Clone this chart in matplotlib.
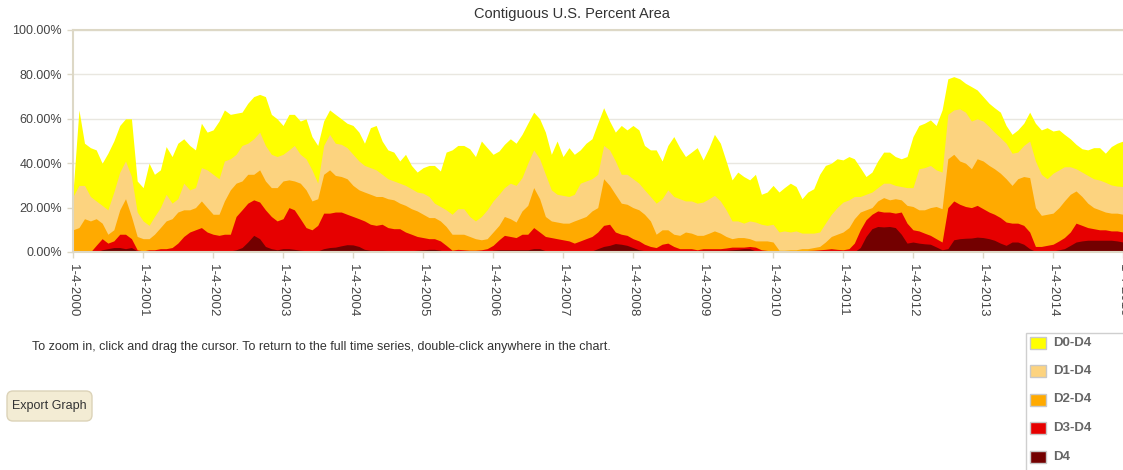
import pandas as pd
import matplotlib
matplotlib.use('Agg')
import matplotlib.pyplot as plt
from matplotlib.patches import Rectangle, FancyBboxPatch
from matplotlib.transforms import Affine2D

plt.rcParams['font.family'] = ['Liberation Sans', 'DejaVu Sans']

# monthly readings, 4th of each month, Jan 2000 .. Jan 2015
dates = pd.date_range('2000-01-04', periods=181, freq=pd.DateOffset(months=1))

d0_d4 = [
    27, 64, 49, 47, 46, 40, 44.5, 50, 57, 60, 60, 32,
    29, 40, 35, 37, 47.5, 43, 49, 51, 48, 46, 58, 54,
    55, 59, 64, 62, 62.5, 63, 67, 70, 71, 70, 62, 60,
    57, 62, 62, 59, 60, 52, 48, 59, 64, 62, 60, 58,
    57, 54, 49, 56, 57, 50, 46, 45, 41, 44, 39, 36,
    38, 39, 39, 36.5, 45, 46, 48, 48, 46.5, 43, 50, 47,
    44, 45.5, 48.5, 51, 49, 53, 58, 63, 60, 54, 44, 50,
    43, 47, 44, 46, 49, 51, 58, 65, 59, 54, 57, 55,
    57, 55, 48, 46, 46, 41, 48, 52, 47, 43, 45, 47,
    41.5, 47, 53, 49, 41, 32.5, 36, 34, 32.5, 35, 26, 27,
    30, 27, 29, 31, 29.5, 24, 27, 28.5, 35, 39, 40, 42,
    41.5, 43, 42, 38, 34, 36, 41, 45, 45, 43, 42, 43,
    52, 57, 58, 59.5, 57, 64, 78, 79, 78, 76, 74.5, 73,
    70, 67, 65, 63, 57, 53, 55, 58, 63, 58, 55, 56,
    54.5, 55, 53, 51, 48.5, 46.5, 46, 47, 47, 44.5, 47.5, 49,
    50,
]
d1_d4 = [
    25, 30, 30, 25, 23, 21, 19, 27, 36, 41, 34, 18,
    14, 12, 16, 20, 26, 22, 24, 31, 28, 29, 38, 37,
    35, 33, 41, 42, 44, 48, 49, 51, 54, 48, 44, 43,
    44, 46, 48, 44, 42, 37, 31, 48, 53, 49, 48.5, 47,
    44, 41, 39, 38, 37, 35, 33, 32, 31, 30, 28.5, 27,
    26.5, 25, 22, 20.5, 19, 17, 19.5, 19.5, 16, 14, 16, 19,
    23, 26, 29, 31, 30, 33.5, 40, 46, 42, 35, 28, 26,
    25.5, 25, 26, 31, 32, 33, 35, 48, 46, 41, 35, 35,
    33, 31, 28, 25, 22, 24, 28, 25, 24, 23, 23, 22,
    22.5, 24, 25.5, 23, 19, 14, 14, 13, 14, 13.5, 12.5, 12,
    12.5, 9, 9.5, 9, 9.5, 8.5, 8.5, 8.5, 9, 13, 17, 20,
    22.5, 23.5, 25, 25, 26, 27, 29, 31, 31, 30, 29.5, 29,
    29, 37.5, 38, 39, 37, 36, 62, 64, 64.5, 63, 59, 60,
    59, 56.5, 54, 51.5, 49, 44.5, 45, 48, 50, 41, 35, 33,
    35.5, 37, 38.4, 38.4, 37.5, 36, 34.5, 33, 32.4, 31.4, 30.2, 29.7,
    29.5,
]
d2_d4 = [
    10, 11, 15, 14, 15, 13, 8, 10, 19, 24, 16, 7,
    6, 6, 8, 11, 14, 15, 18, 19, 19, 20, 23, 20,
    17, 17, 23, 28, 31, 32, 35, 35, 37, 32, 29, 29,
    32, 32.5, 32, 31, 28, 23, 24, 35, 37, 34.5, 34, 33,
    30, 28, 27, 26, 25, 25, 24, 23.5, 22, 21, 19.5, 18.5,
    17, 15.5, 15.5, 14, 11.5, 8, 8, 8, 7, 6, 5.5, 6,
    9, 12, 16, 15, 13.5, 18.5, 21, 29, 24, 16, 14, 13.5,
    13, 13, 14, 15, 16, 18.5, 20, 33, 30, 26, 22, 21.5,
    20, 19, 17, 14, 8, 10, 10, 8, 7.5, 9, 8.5, 7.5,
    7.5, 8.5, 9.5, 8.5, 7, 6, 6.5, 6.5, 6, 5, 5, 5,
    4.5, 0.8, 0.8, 1, 1, 1.5, 1.5, 2, 2.5, 4.5, 7, 8,
    9, 11, 15, 18, 19, 20, 23, 24.5, 23.5, 24, 23.5, 21,
    20.5, 19, 19, 20, 20.5, 19.5, 42, 44, 41, 40, 37.5, 42,
    41, 39, 37.5, 35.5, 33, 30, 33, 34, 33.5, 20, 16.5, 17,
    17.5, 20, 23, 26, 27.5, 25, 22, 20, 19, 18, 17.5, 17.5,
    17,
]
d3_d4 = [
    0, 0, 0, 0, 3, 6, 4, 5, 8, 8, 6, 1,
    0.5, 1, 1, 1.5, 1.5, 2, 4, 7, 9, 10, 11, 9,
    8, 7.5, 8, 8, 16, 19, 22, 23.5, 22.5, 19, 16, 14,
    15, 20, 19, 15, 11, 10, 12, 17.5, 17.5, 18, 18, 17,
    16, 15, 14, 12.5, 12, 12.5, 11, 10.5, 10.5, 9, 8, 7,
    6.5, 6, 6, 5, 3, 0.8, 1.2, 1, 0.8, 0.8, 1, 1.5,
    3, 5.5, 7.5, 7, 6.5, 8, 8, 11, 9, 7, 6.5, 6,
    5.5, 5, 4, 5, 6, 7, 9, 12, 12.5, 9, 8, 7.5,
    6, 5, 3.5, 2.5, 2, 3.5, 4, 2.5, 1.5, 1.5, 1.5, 1,
    1.5, 1.5, 1.5, 1.5, 1.8, 2.2, 2.2, 2.2, 2.5, 2.2, 1, 0.7,
    0.5, 0.3, 0.3, 0.3, 0.3, 0.5, 0.7, 0.8, 1, 1.2, 1.5, 1.2,
    1, 1.5, 4, 10, 14.5, 17, 18.5, 18, 18, 17.5, 18, 13,
    10, 9.5, 8.5, 7.5, 6, 4.5, 20, 23, 21.5, 20.5, 20, 21,
    19.5, 18, 17, 15.5, 13.5, 13, 13, 12, 9, 2.5, 2.5, 3,
    3.5, 5, 6.5, 9, 13, 12, 11, 10.5, 10, 10, 9.5, 9.5,
    9,
]
d4 = [
    0, 0, 0, 0, 0, 1, 1.5, 2, 2, 1.5, 2, 0.5,
    0.5, 0.5, 0.5, 0.5, 0.5, 0.5, 0.5, 0.5, 0.5, 0.5, 0.5, 0.5,
    0.5, 0.5, 0.5, 0.5, 1, 2, 4.5, 7.5, 6, 2.5, 1.5, 1,
    1.5, 1.5, 1.2, 0.8, 0.6, 0.5, 0.5, 1.5, 2, 2.2, 2.8, 3.3,
    3.2, 2.5, 1.2, 0.8, 0.8, 0.8, 0.7, 0.7, 0.6, 0.6, 0.6, 0.8,
    1, 1.2, 1.2, 0.8, 0, 0, 0, 0, 0, 0, 0, 0,
    0.8, 1, 1, 1, 1, 1, 1, 1.5, 1.5, 0.6, 0.5, 0.5,
    0.5, 0.5, 0.5, 0.5, 0.5, 0.5, 1.5, 2.5, 3, 3.8, 3.5, 3,
    2, 1, 0.6, 0.5, 0.5, 0.5, 0.5, 0.5, 0.5, 0.5, 0.5, 0.5,
    0.8, 0.8, 0.8, 0.8, 0.8, 1, 1.2, 1.5, 1.5, 0.5, 0.1, 0.1,
    0.1, 0.1, 0.1, 0.1, 0.1, 0.1, 0.1, 0.1, 0.1, 0.1, 0.1, 0.1,
    0.1, 0.1, 0.1, 2, 7, 10.5, 11.5, 11.3, 11.5, 11, 8, 4,
    4.5, 4, 3.7, 3.5, 2.3, 1, 1.5, 5.5, 6, 6.2, 6.3, 6.7,
    6.5, 6, 5.3, 4, 3, 4.5, 4.5, 3.5, 1.5, 0.3, 0.2, 0.2,
    0.5, 1, 1.5, 3, 4.5, 5, 5.3, 5.3, 5.3, 5.3, 5.3, 5,
    4.5,
]

series = [d0_d4, d1_d4, d2_d4, d3_d4, d4]
labels = ['D0-D4', 'D1-D4', 'D2-D4', 'D3-D4', 'D4']
colors = ['#ffff00', '#fcd37f', '#ffaa00', '#e60000', '#730000']
tick_years = list(range(2000, 2016))
y_ticks = [0, 20, 40, 60, 80, 100]

W, H = 1123, 470
fig = plt.figure(figsize=(W / 100, H / 100), dpi=100)
ax = fig.add_axes([73 / W, 1 - 252 / H, 1 - 73 / W, (252 - 30) / H])

for vals, c in zip(series, colors):
    ax.fill_between(dates, 0, vals, color=c, lw=0)

tick_dates = pd.to_datetime([f'{y}-01-04' for y in tick_years])
ax.set_xlim(dates[0], dates[-1])
ax.set_ylim(0, 100)
ax.set_xticks(tick_dates)
ax.set_xticklabels([f'1-4-{y}' for y in tick_years])
ax.set_yticks(y_ticks)
ax.set_yticklabels([f'{v:.2f}%' for v in y_ticks])

ax.set_axisbelow(True)
ax.yaxis.grid(True, color='#e9e7e0', lw=1)
axis_col = '#ddd8c6'
for s in ['left', 'bottom', 'top']:
    ax.spines[s].set_color(axis_col)
    ax.spines[s].set_linewidth(1.5)
ax.spines['right'].set_visible(False)
ax.tick_params(axis='y', length=4, width=1, color=axis_col, pad=4,
               labelsize=9, labelcolor='#444444')
ax.tick_params(axis='x', length=4, width=1, color=axis_col, pad=5,
               labelsize=9.5, labelcolor='#444444', labelrotation=270)

# pixel coords (top-down) on the figure
px = Affine2D().scale(1 / W, -1 / H).translate(0, 1) + fig.transFigure

fig.text(572, 14, 'Contiguous U.S. Percent Area', transform=px,
         ha='center', va='center', fontsize=10.5, color='#333333')
fig.text(32, 347, 'To zoom in, click and drag the cursor. To return to the full '
         'time series, double-click anywhere in the chart.', transform=px,
         ha='left', va='center', fontsize=9, color='#333333')

# export button
fig.add_artist(FancyBboxPatch((7, 391), 85, 30, boxstyle='round,pad=0,rounding_size=6',
                              fc='#f3ecd4', ec='#dcd3b8', lw=1, transform=px))
fig.text(49.5, 406, 'Export Graph', transform=px, ha='center', va='center',
         fontsize=9, color='#333333')

# legend panel
fig.add_artist(Rectangle((1025.5, 332.5), 120, 150, fc='white', ec='#cfcfcf',
                         lw=1, transform=px))
for i, (lab, c) in enumerate(zip(labels, colors)):
    yc = 342.5 + 28.5 * i
    fig.add_artist(Rectangle((1030, yc - 6), 16, 12, fc=c, ec='#c8c8c8',
                             lw=1, transform=px))
    fig.text(1053, yc, lab, transform=px, ha='left', va='center',
             fontsize=9.5, color='#666666', fontweight='bold')

fig.savefig('out.png', dpi=100)
